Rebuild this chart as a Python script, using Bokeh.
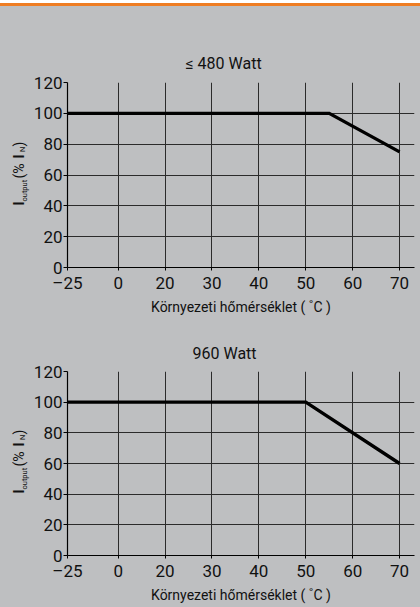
import numpy as np
from bokeh.plotting import figure
from bokeh.layouts import column, row
from bokeh.models import Range1d, FixedTicker, Div
from bokeh.core.properties import value
from bokeh.embed import file_html
from bokeh.resources import INLINE

# ---- data ----
x_ticks = [-25, 0, 20, 30, 40, 50, 60, 70]
y_ticks = [0, 20, 40, 60, 80, 100, 120]
titles = ["≤ 480 Watt", "960 Watt"]
temp_480 = [-25, 55, 70]
out_480 = [100, 100, 75]
temp_960 = [-25, 50, 70]
out_960 = [100, 100, 60]
x_label = "Környezeti hőmérséklet ( ˚C )"

# ---- layout of the non-uniform temperature axis (slot positions) ----
x_slots = [-1.08, 0, 1, 2, 3, 4, 5, 6]
X_END = 6.318

FONT = "Roboto"
BG = "#BEBFC1"
GRID = "#2b2b2b"
TXT = "#111111"
LEFT_W = 30


def ylabel_fig(bt, bb, fh):
    q = figure(frame_width=LEFT_W, frame_height=fh, output_backend="svg",
               toolbar_location=None, min_border_left=0, min_border_right=0,
               min_border_top=bt, min_border_bottom=bb, title=None,
               x_axis_type=None, y_axis_type=None,
               x_range=Range1d(0, LEFT_W), y_range=Range1d(0, fh))
    q.background_fill_color = BG
    q.border_fill_color = BG
    q.outline_line_color = None
    q.xgrid.visible = False
    q.ygrid.visible = False
    big = dict(angle=np.pi / 2, text_align="left", text_baseline="alphabetic",
               text_font=value(FONT), text_color=TXT)
    # I_output (% I_N) built from pieces; y measured in pixels above the frame bottom
    q.text(x=[18.3, 18.3], y=[62, 109], text=["I", "I"],
           text_font_size=value("14px"), text_font_style="bold", **big)
    q.text(x=[18.3, 18.3], y=[89, 121], text=["(% ", ")"],
           text_font_size=value("14px"), **big)
    q.text(x=[23.5, 22.0], y=[66, 115.5], text=["output", "N"],
           text_font_size=value("7.5px"), **big)
    return q


def make(title, title_off, title_standoff, temps, outs, bt, bb, fh):
    p = figure(frame_width=347, frame_height=fh, output_backend="svg",
               toolbar_location=None, min_border_left=65 - LEFT_W, min_border_right=8,
               min_border_top=bt, min_border_bottom=bb,
               x_range=Range1d(x_slots[0], X_END), y_range=Range1d(0, 120),
               title=title)
    p.title.align = "left"
    p.title.offset = title_off
    p.title.standoff = title_standoff
    p.title.text_font = FONT
    p.title.text_font_size = "16px"
    p.title.text_font_style = "normal"
    p.title.text_color = TXT
    p.background_fill_color = BG
    p.border_fill_color = BG
    p.outline_line_color = None

    xs = np.interp(temps, x_ticks, x_slots)
    p.line(xs, outs, line_color="black", line_width=3.4, line_join="miter")

    p.xaxis.ticker = FixedTicker(ticks=[float(s) for s in x_slots])
    labels = {}
    for s, t in zip(x_slots, x_ticks):
        labels[float(s)] = ("–" + str(-t)) if t < 0 else str(t)
    p.xaxis.major_label_overrides = labels
    p.yaxis.ticker = FixedTicker(ticks=y_ticks)

    for ax in (p.xaxis[0], p.yaxis[0]):
        ax.axis_line_color = "black"
        ax.axis_line_width = 1.2
        ax.major_tick_line_color = "black"
        ax.major_tick_in = 0
        ax.minor_tick_line_color = None
        ax.major_label_text_font = FONT
        ax.major_label_text_font_size = "17px"
        ax.major_label_text_color = TXT
    p.xaxis.major_tick_out = 3
    p.xaxis.major_label_standoff = 2
    p.yaxis.major_tick_out = 4
    p.yaxis.major_label_standoff = 1

    p.xaxis.axis_label = x_label
    p.xaxis.axis_label_text_font = FONT
    p.xaxis.axis_label_text_font_size = "14px"
    p.xaxis.axis_label_text_font_style = "normal"
    p.xaxis.axis_label_text_color = TXT
    p.xaxis.axis_label_standoff = 3

    for g in (p.xgrid[0], p.ygrid[0]):
        g.grid_line_color = GRID
        g.grid_line_width = 1
    return p


B1T, B1B, F1 = 76, 54, 185
B2T, B2B, F2 = 50, 52, 184
p1 = make(titles[0], 118, 19, temp_480, out_480, B1T, B1B, F1)
p2 = make(titles[1], 125, 17, temp_960, out_960, B2T, B2B, F2)
l1 = ylabel_fig(B1T, B1B, F1)
l2 = ylabel_fig(B2T, B2B, F2)

strip = Div(text="", width=420, height=6, margin=0,
            styles={"background-color": "#EE7D23", "border-top": "3px solid #FFFFFF",
                    "box-sizing": "border-box"})

root = column(strip, row(l1, p1, spacing=0, styles={"background-color": BG}),
              row(l2, p2, spacing=0, styles={"background-color": BG}), spacing=0,
              styles={"position": "absolute", "left": "0px", "top": "0px",
                      "background-color": BG})

open("out.html", "w").write(file_html(root, INLINE))
